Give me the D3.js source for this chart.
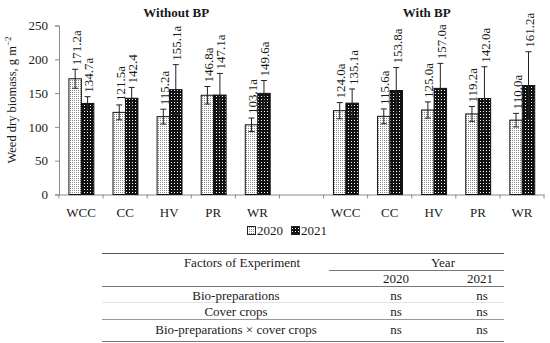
<!DOCTYPE html>
<html>
<head>
<meta charset="utf-8">
<script src="https://cdn.jsdelivr.net/npm/d3@7"></script>
<style>
  body { margin: 0; background: #fff; }
  svg text { font-family: "Liberation Serif", "Times New Roman", serif; fill: #1a1a1a; }
</style>
</head>
<body>
<svg id="chart" width="550" height="343"></svg>
<script>
// chart data
var groups = ["Without BP", "With BP"];
var treatments = ["WCC", "CC", "HV", "PR", "WR"];
var years = ["2020", "2021"];

var withoutBP2020 = [171.2, 121.5, 115.2, 146.8, 103.1];
var withoutBP2021 = [134.7, 142.4, 155.1, 147.1, 149.6];
var withBP2020 = [124.0, 115.6, 125.0, 119.2, 110.0];
var withBP2021 = [135.1, 153.8, 157.0, 142.0, 161.2];

var withoutBP2020err = [14, 11, 11, 13, 10];
var withoutBP2021err = [10, 16, 37, 32, 19];
var withBP2020err = [12, 11, 12, 11, 10];
var withBP2021err = [21, 34, 37, 47, 50];

var withoutBP2020lab = ["171.2a", "121.5a", "115.2a", "146.8a", "103.1a"];
var withoutBP2021lab = ["134.7a", "142.4", "155.1a", "147.1a", "149.6a"];
var withBP2020lab = ["124.0a", "115.6a", "125.0a", "119.2a", "110.0a"];
var withBP2021lab = ["135.1a", "153.8a", "157.0a", "142.0a", "161.2a"];

var yTicks = [0, 50, 100, 150, 200, 250];

// table under the chart
var factors = ["Bio-preparations", "Cover crops", "Bio-preparations \u00d7 cover crops"];
var sig2020 = ["ns", "ns", "ns"];
var sig2021 = ["ns", "ns", "ns"];

function main() {
    var svg = d3.select("#chart");

    // patterns
    var defs = svg.append("defs");
    var p1 = defs.append("pattern").attr("id", "pat2020")
        .attr("patternUnits", "userSpaceOnUse").attr("width", 2).attr("height", 2);
    p1.append("rect").attr("width", 2).attr("height", 2).attr("fill", "#fff");
    p1.append("rect").attr("width", 1).attr("height", 1).attr("fill", "#8a8a8a");

    var p2 = defs.append("pattern").attr("id", "pat2021")
        .attr("patternUnits", "userSpaceOnUse").attr("width", 3).attr("height", 3);
    p2.append("rect").attr("width", 3).attr("height", 3).attr("fill", "#111");
    p2.append("rect").attr("width", 1).attr("height", 1).attr("fill", "#fff");
    var fills = {"2020": "url(#pat2020)", "2021": "url(#pat2021)"};

    // build rows
    var slots = [];
    var rows = [];
    var series = [
        [withoutBP2020, withoutBP2021, withoutBP2020err, withoutBP2021err, withoutBP2020lab, withoutBP2021lab],
        [withBP2020, withBP2021, withBP2020err, withBP2021err, withBP2020lab, withBP2021lab]
    ];
    groups.forEach(function(g, gi) {
        if (gi > 0) slots.push("gap");
        treatments.forEach(function(t, ti) {
            var key = g + "|" + t;
            slots.push(key);
            years.forEach(function(yr, yi) {
                rows.push({slot: key, year: yr,
                    value: series[gi][yi][ti],
                    err: series[gi][yi + 2][ti],
                    label: series[gi][yi + 4][ti]});
            });
        });
    });

    var left = 59, right = 544, top = 25.5, bottom = 194.5;

    var x0 = d3.scaleBand().domain(slots).range([left, right]).padding(0);
    var bw = x0.bandwidth();
    var x1 = d3.scaleBand().domain(years).range([bw * 0.225, bw * 0.79]).padding(0);
    var y = d3.scaleLinear().domain([0, 250]).range([bottom, top]);

    // y axis
    var yAxis = svg.append("g")
        .attr("transform", "translate(" + left + ",0)")
        .call(d3.axisLeft(y).tickValues(yTicks).tickSize(4).tickPadding(7));
    yAxis.select(".domain").attr("stroke", "#8c8c8c");
    yAxis.selectAll(".tick line").attr("stroke", "#8c8c8c");
    yAxis.selectAll(".tick text").attr("font-size", 13).attr("font-family", "Liberation Serif").attr("fill", "#1a1a1a");

    // x axis: labels only, ticks between categories drawn below
    var xAxis = svg.append("g")
        .attr("transform", "translate(0," + bottom + ")")
        .call(d3.axisBottom(x0).tickSize(0).tickPadding(13)
            .tickFormat(function(d) { return d === "gap" ? "" : d.split("|")[1]; }));
    xAxis.select(".domain").attr("stroke", "#8c8c8c");
    xAxis.selectAll(".tick text").attr("font-size", 13).attr("font-family", "Liberation Serif").attr("fill", "#1a1a1a");

    var edges = slots.map(function(s) { return x0(s); }).concat([right]);
    svg.append("g").selectAll("line").data(edges).enter().append("line")
        .attr("x1", function(d) { return d; }).attr("x2", function(d) { return d; })
        .attr("y1", bottom).attr("y2", bottom + 4)
        .attr("stroke", "#8c8c8c");

    // bars
    var bars = svg.append("g");
    bars.selectAll("rect").data(rows).enter().append("rect")
        .attr("x", function(d) { return x0(d.slot) + x1(d.year); })
        .attr("y", function(d) { return y(d.value); })
        .attr("width", x1.bandwidth())
        .attr("height", function(d) { return y(0) - y(d.value); })
        .attr("fill", function(d) { return fills[d.year]; })
        .attr("stroke", "#111").attr("stroke-width", 1);

    // error bars
    var eb = svg.append("g").attr("stroke", "#222").attr("stroke-width", 1);
    rows.forEach(function(d) {
        var cx = x0(d.slot) + x1(d.year) + x1.bandwidth() / 2;
        eb.append("line").attr("x1", cx).attr("x2", cx)
            .attr("y1", y(d.value - d.err)).attr("y2", y(d.value + d.err));
        [d.value - d.err, d.value + d.err].forEach(function(v) {
            eb.append("line").attr("x1", cx - 3).attr("x2", cx + 3)
                .attr("y1", y(v)).attr("y2", y(v));
        });
    });

    // value labels
    svg.append("g").selectAll("text").data(rows).enter().append("text")
        .attr("transform", function(d) {
            var cx = x0(d.slot) + x1(d.year) + x1.bandwidth() / 2;
            return "translate(" + cx + "," + (y(d.value + d.err) - 4) + ") rotate(-90)";
        })
        .attr("dy", "0.42em")
        .attr("font-size", 13)
        .text(function(d) { return d.label; });

    // group titles, slightly off the group centre as in the source figure
    var titleShift = [7, -7];
    groups.forEach(function(g, gi) {
        var mid = x0(g + "|" + treatments[2]) + bw / 2;
        svg.append("text")
            .attr("x", mid + titleShift[gi]).attr("y", 17)
            .attr("text-anchor", "middle")
            .attr("font-size", 13).attr("font-weight", "bold")
            .text(g);
    });

    // y title
    svg.append("text")
        .attr("transform", "translate(16," + 100 + ") rotate(-90)")
        .attr("text-anchor", "middle")
        .attr("font-size", 12.5)
        .text("Weed dry biomass, g m")
        .append("tspan").attr("dy", -5).attr("font-size", 9).text("\u22122");

    // legend
    var leg = svg.append("g").attr("transform", "translate(247,225)");
    years.forEach(function(yr, i) {
        var gx = i * 44;
        leg.append("rect").attr("x", gx + 0.5).attr("y", 1.5).attr("width", 8).attr("height", 8)
            .attr("fill", fills[yr]).attr("stroke", "#222");
        leg.append("text").attr("x", gx + 10).attr("y", 10)
            .attr("font-size", 13).text(yr);
    });

    // table
    var tb = svg.append("g");
    var tl = 102, tr = 504;
    function hline(x1p, x2p, yy, col, w) {
        tb.append("line").attr("x1", x1p).attr("x2", x2p).attr("y1", yy).attr("y2", yy)
            .attr("stroke", col).attr("stroke-width", w);
    }
    hline(tl, tr, 253.5, "#555", 1.2);
    hline(329, tr, 270.5, "#777", 1);
    hline(tl, tr, 286.5, "#777", 1);
    hline(tl, tr, 302.5, "#e2e2e2", 1);
    hline(tl, tr, 319.5, "#999", 1);
    hline(tl, tr, 341.5, "#777", 1);

    function ttext(x, yy, s, anchor) {
        tb.append("text").attr("x", x).attr("y", yy).attr("text-anchor", anchor || "middle")
            .attr("font-size", 13).text(s);
    }
    ttext(242, 267, "Factors of Experiment");
    ttext(443, 267, "Year");
    ttext(396, 283, years[0]);
    ttext(493, 283, years[1], "end");
    var rowY = [299.5, 316, 334];
    factors.forEach(function(f, i) {
        ttext(236, rowY[i], f);
        ttext(396, rowY[i], sig2020[i]);
        ttext(482, rowY[i], sig2021[i]);
    });
}
main();
</script>
</body>
</html>
